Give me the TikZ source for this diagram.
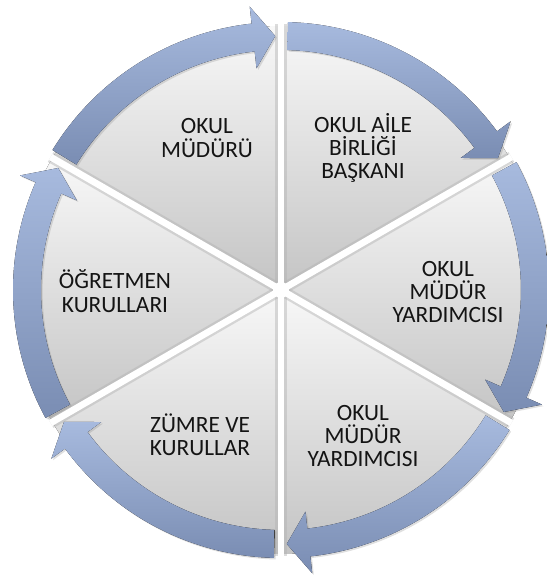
\documentclass[tikz,border=0pt]{standalone}
\usepackage{fontspec}
\setmainfont{Carlito}
\usetikzlibrary{shadows}
\definecolor{oktop}{HTML}{A7BADE}
\definecolor{okbot}{HTML}{7A8DB3}
\definecolor{dilimtop}{HTML}{F8F8F8}
\definecolor{dilimbot}{HTML}{C4C4C4}

\begin{document}
\begin{tikzpicture}[x=0.75pt,y=0.75pt,
        dilim/.style={top color=dilimtop,bottom color=dilimbot},
        ok/.style={top color=oktop,bottom color=okbot,
            drop shadow={opacity=.25,shadow xshift=1.2pt,shadow yshift=-1.2pt}},
        yazi/.style={align=center,text=black!92,font=\fontsize{17.5}{17.5}\selectfont}]
        \useasboundingbox (-281,-295) rectangle (265,290);
        \coordinate (o) at (0,0);

        % 六个扇形
        \foreach \g in {90,30,-30,-90,-150,150}
            {
                \fill[dilim] (o) -- (\g:264) arc[start angle=\g, end angle=\g+60, radius=264] -- cycle;
            }

        % 扇形之间的白色空隙
        \foreach \g in {90,30,-30,-90,-150,150}
            \draw[line width=8.5pt, black!30, opacity=.45] (o) -- (\g:266);
        \foreach \g in {90,30,-30,-90,-150,150}
            \draw[line width=5pt, white] (o) -- (\g:266);
        \fill[white] (o) circle (8);

        % 环形箭头 (顺时针)
        \foreach \g in {90,30,-30,-90,-150,150}
            {
                \pgfmathsetmacro{\s}{\g-1.5}
                \pgfmathsetmacro{\t}{\g-58.7}
                \pgfmathsetmacro{\b}{\t+5}
                \fill[ok] (\s:240) arc[start angle=\s, end angle=\b, radius=240]
                    -- (\b:223) -- (\t:254) -- (\b:285) -- (\b:268)
                    arc[start angle=\b, end angle=\s, radius=268] -- cycle;
            }

        \node[yazi] (mudur) at (-74,152) {OKUL\\MÜDÜRÜ};
        \node[yazi] (aile) at (82,142) {OKUL AİLE\\BİRLİĞİ\\BAŞKANI};
        \node[yazi] (yardimci1) at (167,-2) {OKUL\\MÜDÜR\\YARDIMCISI};
        \node[yazi] (yardimci2) at (82,-146) {OKUL\\MÜDÜR\\YARDIMCISI};
        \node[yazi] (zumre) at (-81,-145) {ZÜMRE VE\\KURULLAR};
        \node[yazi] (ogretmen) at (-166,-1) {ÖĞRETMEN\\KURULLARI};
    \end{tikzpicture}
\end{document}
